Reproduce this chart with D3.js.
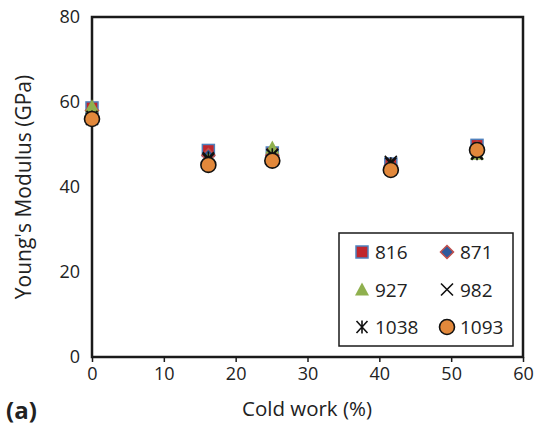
<!DOCTYPE html>
<html>
<head>
<meta charset="utf-8">
<script src="https://cdn.jsdelivr.net/npm/d3@7"></script>
<style>
body { margin: 0; background: #fff; }
text { font-family: "Open Sans", "Liberation Sans", sans-serif; fill: #222; }
</style>
</head>
<body>
<svg id="svg" width="538" height="427"></svg>
<script>
// cold work (%) for each sample
var coldWork = [0, 16.2, 25.1, 41.6, 53.6];

// annealing temperatures (legend labels)
var temps = ["816", "871", "927", "982", "1038", "1093"];

// Young's modulus (GPa) per temperature
var e816  = [58.6, 48.6, 48.0, 45.4, 49.8];
var e871  = [58.0, 47.5, 47.5, 45.0, 49.2];
var e927  = [59.0, 46.6, 49.3, 45.2, 47.8];
var e982  = [56.0, 46.5, 47.5, 45.9, 48.0];
var e1038 = [56.5, 46.8, 47.6, 45.5, 47.8];
var e1093 = [56.0, 45.2, 46.2, 44.0, 48.7];

var xTicks = [0, 10, 20, 30, 40, 50, 60];
var yTicks = [0, 20, 40, 60, 80];

var series = [e816, e871, e927, e982, e1038, e1093];

var svg = d3.select("#svg");
var pLeft = 92, pRight = 523, pTop = 17, pBottom = 357;

var x = d3.scaleLinear().domain([0, 60]).range([pLeft, pRight]);
var y = d3.scaleLinear().domain([0, 80]).range([pBottom, pTop]);

// frame
svg.append("rect")
    .attr("x", pLeft).attr("y", pTop)
    .attr("width", pRight - pLeft).attr("height", pBottom - pTop)
    .attr("fill", "none").attr("stroke", "#1a1a1a").attr("stroke-width", 2.5);

var xAxis = svg.append("g")
    .attr("transform", "translate(0," + pBottom + ")")
    .call(d3.axisBottom(x).tickValues(xTicks).tickSize(5).tickPadding(5));
xAxis.select(".domain").remove();
xAxis.selectAll("line").attr("stroke", "#1a1a1a").attr("stroke-width", 1.5);
xAxis.selectAll("text").attr("font-size", "18px").attr("fill", "#222")
    .style("font-family", "'Open Sans', 'Liberation Sans', sans-serif");

var yAxis = svg.append("g")
    .attr("transform", "translate(" + pLeft + ",0)")
    .call(d3.axisLeft(y).tickValues(yTicks).tickSize(0).tickPadding(12));
yAxis.select(".domain").remove();
yAxis.selectAll("text").attr("font-size", "18px").attr("fill", "#222")
    .style("font-family", "'Open Sans', 'Liberation Sans', sans-serif");

// axis titles
svg.append("text")
    .attr("x", 307).attr("y", 416)
    .attr("text-anchor", "middle").attr("font-size", "20.5px")
    .text("Cold work (%)");

svg.append("text")
    .attr("transform", "translate(31," + 187 + ") rotate(-90)")
    .attr("text-anchor", "middle").attr("font-size", "21px")
    .text("Young's Modulus (GPa)");

svg.append("text")
    .attr("x", 6).attr("y", 419)
    .attr("font-size", "24px").attr("font-weight", "bold")
    .text("(a)");

// marker drawing
function drawMarker(g, k) {
    if (k === 0) {
        g.append("rect").attr("x", -6).attr("y", -6).attr("width", 12).attr("height", 12)
            .attr("fill", "#c0272d").attr("stroke", "#4f81bd").attr("stroke-width", 1.5);
    } else if (k === 1) {
        g.append("path").attr("d", "M0,-6.5L6.5,0L0,6.5L-6.5,0Z")
            .attr("fill", "#2e5a9c").attr("stroke", "#c0504d").attr("stroke-width", 1.5);
    } else if (k === 2) {
        g.append("path").attr("d", "M0,-7L7,6L-7,6Z")
            .attr("fill", "#8fb04e");
    } else if (k === 3) {
        g.append("path").attr("d", "M-6,-6L6,6M6,-6L-6,6")
            .attr("stroke", "#111").attr("stroke-width", 1.6);
    } else if (k === 4) {
        g.append("path").attr("d", "M-5.5,-6L5.5,6M5.5,-6L-5.5,6M0,-6.5L0,6.5")
            .attr("stroke", "#111").attr("stroke-width", 1.6);
    } else {
        g.append("circle").attr("r", 7.5)
            .attr("fill", "#e2883b").attr("stroke", "#111").attr("stroke-width", 1.6);
    }
}

series.forEach(function(vals, k) {
    svg.append("g").selectAll("g")
        .data(vals)
        .enter().append("g")
        .attr("transform", function(d, i) { return "translate(" + x(coldWork[i]) + "," + y(d) + ")"; })
        .each(function() { drawMarker(d3.select(this), k); });
});

// legend
var legend = svg.append("g");
legend.append("rect")
    .attr("x", 339).attr("y", 233).attr("width", 174).attr("height", 113)
    .attr("fill", "#fff").attr("stroke", "#1a1a1a").attr("stroke-width", 1.5);

temps.forEach(function(t, k) {
    var col = k % 2, row = Math.floor(k / 2);
    var mx = col === 0 ? 362 : 447;
    var my = 252 + row * 37.5;
    var g = legend.append("g").attr("transform", "translate(" + mx + "," + my + ")");
    drawMarker(g, k);
    legend.append("text")
        .attr("x", mx + 13).attr("y", my + 7)
        .attr("font-size", "19px")
        .text(t);
});
</script>
</body>
</html>
